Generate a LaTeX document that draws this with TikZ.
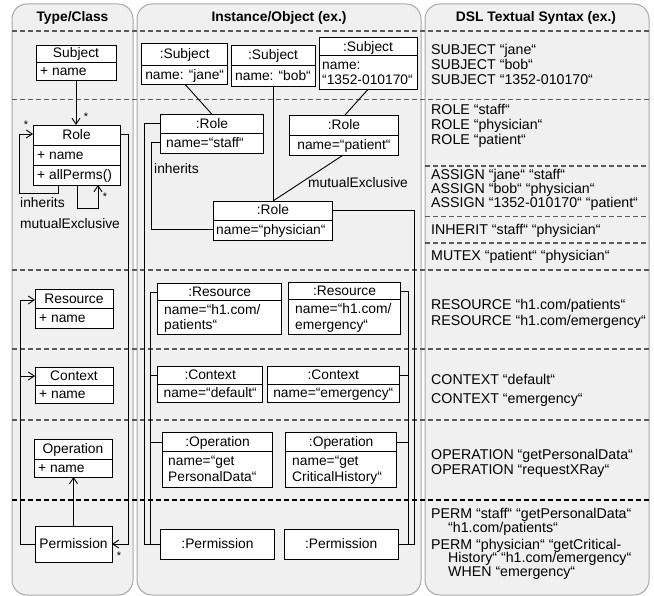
\documentclass[tikz,border=0pt]{standalone}
\usepackage{fontspec}
\setmainfont{Liberation Sans}
\usetikzlibrary{arrows.meta,fit}
\definecolor{colfill}{HTML}{F0F0F0}
\definecolor{coledge}{HTML}{A8A8A8}
\definecolor{sepgray}{HTML}{5A5A5A}

\tikzset{
  box/.style={draw, fill=white, inner sep=0pt, outer sep=0pt, line width=0.9pt},
  conn/.style={line width=0.9pt},
  opentip/.style={-{Straight Barb[length=6pt,width=8pt]}},
  lbl/.style={inner sep=0pt, text height=9.5pt, text depth=0.5pt, font=\fontsize{13.8}{15}\selectfont},
  lbll/.style={lbl, anchor=west},
  dsl/.style={lbl, anchor=west, font=\fontsize{14.2}{15}\selectfont},
  head/.style={lbl, font=\fontsize{13.8}{15}\selectfont\bfseries},
  mult/.style={inner sep=0pt, font=\fontsize{11}{12}\selectfont},
  column/.style={fill=colfill, draw=coledge, line width=1pt, rounded corners=15pt},
  sep/.style={draw=sepgray, line width=1.2pt, dash pattern=on 5pt off 3pt},
}
% class / object box spanning two corners, and a compartment divider
\newcommand\umlbox[5]{\node[box, fit={(#2,#3) (#4,#5)}] (#1) {};}
\newcommand\divider[2]{\draw[line width=0.9pt] (#1.west |- 0,#2) -- (#1.east |- 0,#2);}

\begin{document}
\begin{tikzpicture}[x=1pt, y=-1pt]
\useasboundingbox (0,0) rectangle (654,596);

% three columns
\path[column] (12,4) rectangle (133,595);
\path[column] (137,4) rectangle (421,595);
\path[column] (425,4) rectangle (649,595);

\node[head] (h1) at (72.5,17) {Type/Class};
\node[head] (h2) at (279,17) {Instance/Object (ex.)};
\node[head] (h3) at (536,17.5) {DSL Textual Syntax (ex.)};

% row separators
\foreach \y in {31,99.5,270,349,420} \draw[sep] (12,\y) -- (649,\y);
\draw[sep, draw=black, line width=1.5pt] (12,500) -- (649,500);
\foreach \y in {166,216.5,243} \draw[sep] (425,\y) -- (649,\y);

% ---------------- Type/Class ----------------
\umlbox{Subj}{36}{45}{116}{80} \divider{Subj}{62}
\node[lbl] (SubjN) at (76,53.5) {Subject};
\node[lbll] (SubjA) at (40,71) {+ name};

\umlbox{Role}{33}{125}{120}{185} \divider{Role}{145} \divider{Role}{165}
\node[lbl] (RoleN) at (76.5,135) {Role};
\node[lbll] (RoleA) at (37,155) {+ name};
\node[lbll] (RoleM) at (37,175) {+ allPerms()};

\umlbox{Res}{35}{289}{113}{328} \divider{Res}{308.5}
\node[lbl] (ResN) at (74,299) {Resource};
\node[lbll] (ResA) at (39,318) {+ name};

\umlbox{Ctx}{35}{367}{113}{403} \divider{Ctx}{385}
\node[lbl] (CtxN) at (74,376) {Context};
\node[lbll] (CtxA) at (39,394) {+ name};

\umlbox{Op}{34}{439}{112}{477} \divider{Op}{459}
\node[lbl] (OpN) at (73,449) {Operation};
\node[lbll] (OpA) at (38,468) {+ name};

\umlbox{Perm}{35}{526}{112}{562}
\node[lbl] (PermN) at (73.5,544) {Permission};

\draw[conn,opentip] (Subj.south) -- (Subj.south |- Role.north);
\node[mult] (m1) at (86,117) {*};
\draw[conn,opentip] ([xshift=25pt]Role.south west) |- (19,193) |- (Role.west |- 0,134);
\node[mult] (m2) at (26,125) {*};
\node[lbll] (inhC) at (20,203) {inherits};
\draw[conn,opentip] ([xshift=44pt]Role.south west) |- (98,208) -- ([xshift=65pt]Role.south west);
\node[mult] (m3) at (105,197) {*};
\node[lbll] (mutC) at (20,224) {mutualExclusive};
\draw[conn,opentip] (Role.east |- 0,134) -| (128,544) -- (Perm.east |- 0,544);
\node[mult] (m4) at (119,556) {*};
\draw[conn,opentip] (Perm.west |- 0,544) -| (20,300) -- (Res.west |- 0,300);
\draw[conn,opentip] (20,376) -- (Ctx.west |- 0,376);
\draw[conn,opentip] (Perm.north) -- (Perm.north |- Op.south);

% ---------------- Instance/Object ----------------
\umlbox{jane}{141.7}{43.3}{227.7}{84.3} \divider{jane}{65}
\node[lbl] (janeN) at (184.7,54) {:Subject};
\node[lbl] (janeA) at (184.7,75) {name: “jane“};

\umlbox{bob}{231}{45}{315}{86} \divider{bob}{65.7}
\node[lbl] (bobN) at (273,55.5) {:Subject};
\node[lbl] (bobA) at (273,76) {name: “bob“};

\umlbox{num}{319}{37.7}{417.3}{89} \divider{num}{55.7}
\node[lbl] (numN) at (368,46.7) {:Subject};
\node[lbll] (numA) at (322,65) {name:};
\node[lbll] (numB) at (322,80) {“1352-010170“};

\umlbox{staff}{160.7}{114}{263.3}{153.3} \divider{staff}{133.3}
\node[lbl] (staffN) at (212,123.7) {:Role};
\node[lbll] (staffA) at (166,143) {name=“staff“};

\umlbox{patient}{289.3}{115}{398.3}{155} \divider{patient}{135.7}
\node[lbl] (patientN) at (344,125.3) {:Role};
\node[lbl] (patientA) at (344,145.5) {name=“patient“};

\umlbox{phys}{213.3}{201}{332.3}{240.7} \divider{phys}{220}
\node[lbl] (physN) at (273,210.5) {:Role};
\node[lbll] (physA) at (216,230.5) {name=“physician“};

\umlbox{resP}{157.7}{283.3}{281.7}{334.3} \divider{resP}{300.7}
\node[lbl] (resPN) at (219.7,292) {:Resource};
\node[lbll] (resPA) at (164,310) {name=“h1.com/};
\node[lbll] (resPB) at (164,325.5) {patients“};

\umlbox{resE}{288.3}{282.7}{400.7}{334.3} \divider{resE}{299.3}
\node[lbl] (resEN) at (344.5,291) {:Resource};
\node[lbll] (resEA) at (295,309) {name=“h1.com/};
\node[lbll] (resEB) at (295,325) {emergency“};

\umlbox{ctxD}{157.7}{366.7}{262.7}{402} \divider{ctxD}{384.3}
\node[lbl] (ctxDN) at (210.2,375.5) {:Context};
\node[lbl] (ctxDA) at (210.2,393.2) {name=“default“};

\umlbox{ctxE}{267.3}{366.7}{399.3}{402} \divider{ctxE}{384.3}
\node[lbl] (ctxEN) at (333.3,375.5) {:Context};
\node[lbl] (ctxEA) at (333.3,393.2) {name=“emergency“};

\umlbox{opP}{162.3}{432.7}{272.7}{487.7} \divider{opP}{451}
\node[lbl] (opPN) at (217.5,442) {:Operation};
\node[lbll] (opPA) at (168,461) {name=“get};
\node[lbll] (opPB) at (168,476.5) {PersonalData“};

\umlbox{opC}{285.7}{432.7}{396.7}{487.7} \divider{opC}{451}
\node[lbl] (opCN) at (341.2,442) {:Operation};
\node[lbll] (opCA) at (292,461) {name=“get};
\node[lbll] (opCB) at (292,476.5) {CriticalHistory“};

\umlbox{permS}{160.7}{529.3}{274.3}{559.3}
\node[lbl] (permSN) at (217.5,544.3) {:Permission};
\umlbox{permC}{284}{529.3}{398.3}{559.3}
\node[lbl] (permCN) at (341.2,544.3) {:Permission};

% assignments, hierarchy and constraints between instances
\draw[conn] ([xshift=43.3pt]jane.south west) -- ([xshift=51pt]staff.north west);
\draw[conn] ([xshift=49.3pt]num.south west) -- ([xshift=55.7pt]patient.north west);
\draw[conn] (bob.south) -- (bob.south |- phys.north);
\draw[conn] ([xshift=54pt]patient.south west) -- (bob.south |- phys.north);
\node[lbll] (mutI) at (308,183) {mutualExclusive};
\draw[conn] (staff.west |- 0,142.7) -| (151.7,229.3) -- (phys.west |- 0,229.3);
\node[lbll] (inhI) at (154,169) {inherits};

% permission links
\draw[conn] (staff.west |- 0,123.3) -| (144,544.3) -- (permS.west |- 0,544.3);
\draw[conn] (resP.west |- 0,292) -| (150.7,544.3);
\draw[conn] (ctxD.west |- 0,375.5) -- (150.7,375.5);
\draw[conn] (opP.west |- 0,442) -- (150.7,442);
\draw[conn] (phys.east |- 0,210.7) -| (414,544.3) -- (permC.east |- 0,544.3);
\draw[conn] (resE.east |- 0,291.7) -| (408.3,544.3);
\draw[conn] (ctxE.east |- 0,375.5) -- (408.3,375.5);
\draw[conn] (opC.east |- 0,442) -- (408.3,442);

% ---------------- DSL Textual Syntax ----------------
\node[dsl] (d1) at (431,50) {SUBJECT “jane“};
\node[dsl] (d2) at (431,65) {SUBJECT “bob“};
\node[dsl] (d3) at (431,80.5) {SUBJECT “1352-010170“};
\node[dsl] (d4) at (431,110) {ROLE “staff“};
\node[dsl] (d5) at (431,125) {ROLE “physician“};
\node[dsl] (d6) at (431,140) {ROLE “patient“};
\node[dsl] (d7) at (431,175) {ASSIGN “jane“ “staff“};
\node[dsl] (d8) at (431,189) {ASSIGN “bob“ “physician“};
\node[dsl] (d9) at (431,203.5) {ASSIGN “1352-010170“ “patient“};
\node[dsl] (d10) at (431,230) {INHERIT “staff“ “physician“};
\node[dsl] (d11) at (431,256.5) {MUTEX “patient“ “physician“};
\node[dsl] (d12) at (431,305) {RESOURCE “h1.com/patients“};
\node[dsl] (d13) at (431,321) {RESOURCE “h1.com/emergency“};
\node[dsl] (d14) at (431,380) {CONTEXT “default“};
\node[dsl] (d15) at (431,398.5) {CONTEXT “emergency“};
\node[dsl] (d16) at (431,455) {OPERATION “getPersonalData“};
\node[dsl] (d17) at (431,470) {OPERATION “requestXRay“};
\node[dsl] (d18) at (431,513.5) {PERM “staff“ “getPersonalData“};
\node[dsl] (d19) at (448,527.5) {“h1.com/patients“};
\node[dsl] (d20) at (431,544.5) {PERM “physician“ “getCritical-};
\node[dsl] (d21) at (448,558) {History“ “h1.com/emergency“};
\node[dsl] (d22) at (448,572) {WHEN “emergency“};
\end{tikzpicture}
\end{document}
